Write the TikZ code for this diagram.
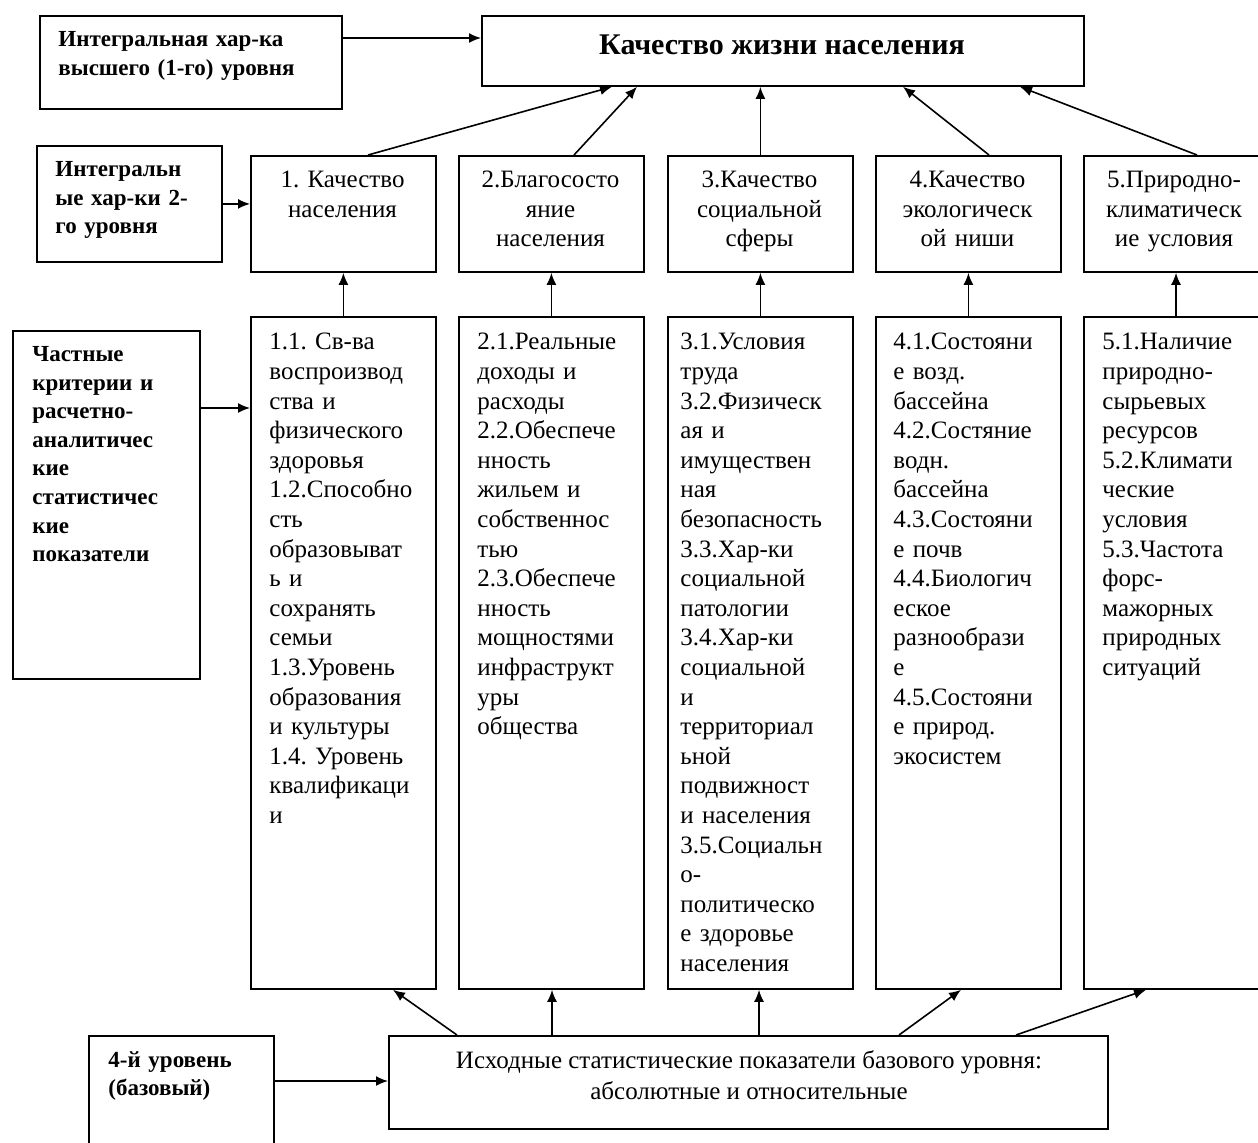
\documentclass[tikz,border=0pt]{standalone}
\usepackage{fontspec}
\setmainfont{Liberation Serif}
\usetikzlibrary{arrows.meta}
\frenchspacing

\begin{document}
\begin{tikzpicture}[x=0.5pt,y=-0.5pt,>={Latex[length=6pt,width=5pt]},
    box/.style={draw,line width=0.9pt,anchor=north west,inner sep=0pt},
    head/.style={inner sep=0pt,font=\fontsize{11.5}{14.3}\selectfont\bfseries,align=left},
    grp/.style={inner sep=0pt,font=\fontsize{12.5}{14.75}\selectfont,align=center,text width=90pt,anchor=north},
    itm/.style={inner sep=0pt,font=\fontsize{12.5}{14.8}\selectfont,align=left,text width=88pt,anchor=north west},
    link/.style={->,line width=0.8pt}]
    \useasboundingbox (0,0) rectangle (1258,1142);
    \clip (0,0) rectangle (1258,1142);

    % top level
    \node[box,minimum width=151pt,minimum height=46.5pt] (lvl1) at (39,15) {};
    \node[head,text width=140pt,anchor=west] (lvl1t) at (58,56) {Интегральная хар-ка\\высшего (1-го) уровня};
    \node[box,minimum width=301pt,minimum height=35pt] (top) at (481,15) {};
    \node[inner sep=0pt,font=\fontsize{15}{18}\selectfont\bfseries] (topt) at (782,45) {Качество жизни населения};

    % second level
    \node[box,minimum width=92.5pt,minimum height=58pt] (lvl2) at (36,145) {};
    \node[head,text width=85pt,anchor=west] (lvl2t) at (55,200) {Интегральн\\ые хар-ки 2-\\го уровня};

    \node[box,minimum width=92.5pt,minimum height=58pt] (q1) at (250,155) {};
    \node[grp] (qt1) at (342.5,171) {1. Качество\\населения};
    \node[box,minimum width=92.5pt,minimum height=58pt] (q2) at (458,155) {};
    \node[grp] (qt2) at (550.5,171) {2.Благососто\\яние\\населения};
    \node[box,minimum width=92.5pt,minimum height=58pt] (q3) at (667,155) {};
    \node[grp] (qt3) at (759.5,171) {3.Качество\\социальной\\сферы};
    \node[box,minimum width=92.5pt,minimum height=58pt] (q4) at (875,155) {};
    \node[grp] (qt4) at (967.5,171) {4.Качество\\экологическ\\ой ниши};
    \node[box,minimum width=100pt,minimum height=58pt] (q5) at (1083,155) {};
    \node[grp] (qt5) at (1174,171) {5.Природно-\\климатическ\\ие условия};

    % third level
    \node[box,minimum width=93.5pt,minimum height=174pt] (lvl3) at (12,330) {};
    \node[head,text width=85pt,anchor=north west] (lvl3t) at (32,346) {Частные\\критерии и\\расчетно-\\аналитичес\\кие\\статистичес\\кие\\показатели};

    \node[box,minimum width=92.5pt,minimum height=336pt] (c1) at (250,316) {};
    \node[itm] (ct1) at (269,333) {1.1. Св-ва\\воспроизвод\\ства и\\физического\\здоровья\\1.2.Способно\\сть\\образовыват\\ь и\\сохранять\\семьи\\1.3.Уровень\\образования\\и культуры\\1.4. Уровень\\квалификаци\\и};
    \node[box,minimum width=92.5pt,minimum height=336pt] (c2) at (458,316) {};
    \node[itm] (ct2) at (477,333) {2.1.Реальные\\доходы и\\расходы\\2.2.Обеспече\\нность\\жильем и\\собственнос\\тью\\2.3.Обеспече\\нность\\мощностями\\инфраструкт\\уры\\общества};
    \node[box,minimum width=92.5pt,minimum height=336pt] (c3) at (667,316) {};
    \node[itm] (ct3) at (680,333) {3.1.Условия\\труда\\3.2.Физическ\\ая и\\имуществен\\ная\\безопасность\\3.3.Хар-ки\\социальной\\патологии\\3.4.Хар-ки\\социальной\\и\\территориал\\ьной\\подвижност\\и населения\\3.5.Социальн\\о-\\политическо\\е здоровье\\населения};
    \node[box,minimum width=92.5pt,minimum height=336pt] (c4) at (875,316) {};
    \node[itm] (ct4) at (893,333) {4.1.Состояни\\е возд.\\бассейна\\4.2.Состяние\\водн.\\бассейна\\4.3.Состояни\\е почв\\4.4.Биологич\\еское\\разнообрази\\е\\4.5.Состояни\\е природ.\\экосистем};
    \node[box,minimum width=100pt,minimum height=336pt] (c5) at (1083,316) {};
    \node[itm] (ct5) at (1102,333) {5.1.Наличие\\природно-\\сырьевых\\ресурсов\\5.2.Климати\\ческие\\условия\\5.3.Частота\\форс-\\мажорных\\природных\\ситуаций};

    % base level
    \node[box,minimum width=92.5pt,minimum height=75pt] (lvl4) at (88,1035) {};
    \node[head,text width=85pt,anchor=west] (lvl4t) at (108,1076) {4-й уровень\\(базовый)};
    \node[box,minimum width=359.5pt,minimum height=46.5pt] (base) at (388,1035) {};
    \node[inner sep=0pt,align=center,font=\fontsize{12.5}{15.5}\selectfont] (baset) at (749,1075) {Исходные статистические показатели базового уровня:\\абсолютные и относительные};

    % level markers
    \draw[link] ([yshift=-11.5pt]lvl1.north east) -- ([yshift=-11.5pt]top.north west);
    \draw[link] (lvl2.east) -- (lvl2.east -| q1.west);
    \draw[link] ([yshift=-39pt]lvl3.north east) -- ([yshift=-46pt]c1.north west);
    \draw[link] ([yshift=-23pt]lvl4.north east) -- ([yshift=-23pt]base.north west);

    % second level -> top
    \draw[link] ([xshift=59pt]q1.north west) -- ([xshift=65.5pt]top.south west);
    \draw[link] ([xshift=58pt]q2.north west) -- ([xshift=78pt]top.south west);
    \draw[link] (q3.north) -- (q3.north |- top.south);
    \draw[link] ([xshift=57pt]q4.north west) -- ([xshift=211pt]top.south west);
    \draw[link] ([xshift=57pt]q5.north west) -- ([xshift=269.5pt]top.south west);

    % criteria -> second level
    \draw[link] (c1.north) -- (q1.south);
    \draw[link] (c2.north) -- (q2.south);
    \draw[link] (c3.north) -- (q3.south);
    \draw[link] (c4.north) -- (q4.south);
    \draw[link] ([xshift=46.5pt]c5.north west) -- ([xshift=46.5pt]q5.south west);

    % base -> criteria
    \draw[link] ([xshift=34.5pt]base.north west) -- ([xshift=71.5pt]c1.south west);
    \draw[link] ([xshift=82pt]base.north west) -- ([xshift=47pt]c2.south west);
    \draw[link] ([xshift=185.5pt]base.north west) -- ([xshift=46pt]c3.south west);
    \draw[link] ([xshift=255.5pt]base.north west) -- ([xshift=43pt]c4.south west);
    \draw[link] ([xshift=314pt]base.north west) -- ([xshift=31.5pt]c5.south west);
\end{tikzpicture}
\end{document}
